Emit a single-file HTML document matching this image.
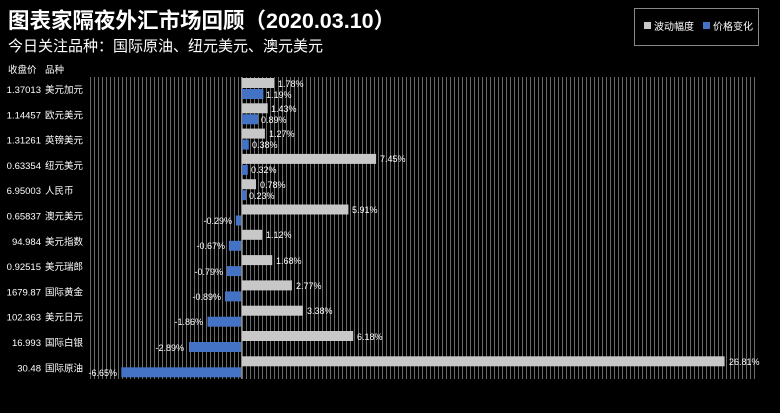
<!DOCTYPE html>
<html><head><meta charset="utf-8"><style>
body{margin:0;background:#000;}
svg{display:block;font-family:"Liberation Sans","Noto Sans CJK SC",sans-serif;}
</style></head><body>
<svg width="780" height="413" viewBox="0 0 780 413" xmlns="http://www.w3.org/2000/svg">
<defs><pattern id="g" x="90" y="0" width="4" height="10" patternUnits="userSpaceOnUse"><rect x="0" y="0" width="1" height="10" fill="#6a6a6a"/></pattern></defs>
<rect width="780" height="413" fill="#000"/>
<text x="8" y="28" fill="#fff" font-size="21.5" font-weight="bold">图表家隔夜外汇市场回顾（2020.03.10）</text>
<text x="8" y="51" fill="#fff" font-size="15">今日关注品种：国际原油、纽元美元、澳元美元</text>
<rect x="634.5" y="8.5" width="124" height="37" fill="none" stroke="#888"/>
<rect x="644" y="22" width="7" height="7" fill="#c8c8c8"/>
<text x="654" y="30" fill="#fff" font-size="10">波动幅度</text>
<rect x="703" y="22" width="7" height="7" fill="#4472c4"/>
<text x="713" y="30" fill="#fff" font-size="10">价格变化</text>
<text x="8" y="73" fill="#fff" font-size="9.5">收盘价</text>
<text x="45" y="73" fill="#fff" font-size="9.5">品种</text>
<rect x="90" y="77" width="668" height="302" fill="url(#g)"/>
<line x1="241.5" y1="77" x2="241.5" y2="379" stroke="#888"/>
<g font-size="9" fill="#fff">
<rect x="242" y="78" width="32" height="10" fill="#c8c8c8"/><text x="278" y="87">1.78%</text>
<rect x="242" y="89" width="21.4" height="10" fill="#4472c4"/><text x="266" y="98">1.19%</text>
<rect x="242" y="103.3" width="25.7" height="10" fill="#c8c8c8"/><text x="271" y="112">1.43%</text>
<rect x="242" y="114.3" width="16" height="10" fill="#4472c4"/><text x="261" y="123">0.89%</text>
<rect x="242" y="128.6" width="22.9" height="10" fill="#c8c8c8"/><text x="269" y="137">1.27%</text>
<rect x="242" y="139.6" width="6.8" height="10" fill="#4472c4"/><text x="252" y="148">0.38%</text>
<rect x="242" y="153.9" width="134.1" height="10" fill="#c8c8c8"/><text x="380" y="162">7.45%</text>
<rect x="242" y="164.9" width="5.8" height="10" fill="#4472c4"/><text x="251" y="173">0.32%</text>
<rect x="242" y="179.2" width="14" height="10" fill="#c8c8c8"/><text x="260" y="188">0.78%</text>
<rect x="242" y="190.2" width="4.1" height="10" fill="#4472c4"/><text x="249" y="199">0.23%</text>
<rect x="242" y="204.5" width="106.4" height="10" fill="#c8c8c8"/><text x="352" y="213">5.91%</text>
<rect x="235.8" y="215.5" width="5.2" height="10" fill="#4472c4"/><text x="232" y="224" text-anchor="end">-0.29%</text>
<rect x="242" y="229.8" width="20.2" height="10" fill="#c8c8c8"/><text x="266" y="238">1.12%</text>
<rect x="228.9" y="240.8" width="12.1" height="10" fill="#4472c4"/><text x="225" y="249" text-anchor="end">-0.67%</text>
<rect x="242" y="255.1" width="30.2" height="10" fill="#c8c8c8"/><text x="276" y="264">1.68%</text>
<rect x="226.8" y="266.1" width="14.2" height="10" fill="#4472c4"/><text x="223" y="275" text-anchor="end">-0.79%</text>
<rect x="242" y="280.4" width="49.9" height="10" fill="#c8c8c8"/><text x="296" y="289">2.77%</text>
<rect x="225" y="291.4" width="16" height="10" fill="#4472c4"/><text x="221" y="300" text-anchor="end">-0.89%</text>
<rect x="242" y="305.7" width="60.8" height="10" fill="#c8c8c8"/><text x="307" y="314">3.38%</text>
<rect x="207.5" y="316.7" width="33.5" height="10" fill="#4472c4"/><text x="203" y="325" text-anchor="end">-1.86%</text>
<rect x="242" y="331" width="111.2" height="10" fill="#c8c8c8"/><text x="357" y="340">6.18%</text>
<rect x="189" y="342" width="52" height="10" fill="#4472c4"/><text x="184" y="351" text-anchor="end">-2.89%</text>
<rect x="242" y="356.3" width="482.6" height="10" fill="#c8c8c8"/><text x="729" y="365">26.81%</text>
<rect x="121.3" y="367.3" width="119.7" height="10" fill="#4472c4"/><text x="117" y="376" text-anchor="end">-6.65%</text>
</g>
<g font-size="9.5" fill="#fff">
<g text-anchor="end">
<text x="41" y="93">1.37013</text><text x="41" y="118.3">1.14457</text><text x="41" y="143.6">1.31261</text><text x="41" y="168.9">0.63354</text><text x="41" y="194.2">6.95003</text><text x="41" y="219.5">0.65837</text><text x="41" y="244.8">94.984</text><text x="41" y="270.1">0.92515</text><text x="41" y="295.4">1679.87</text><text x="41" y="320.7">102.363</text><text x="41" y="346">16.993</text><text x="41" y="371.3">30.48</text>
</g>
<text x="45" y="93">美元加元</text><text x="45" y="118.3">欧元美元</text><text x="45" y="143.6">英镑美元</text><text x="45" y="168.9">纽元美元</text><text x="45" y="194.2">人民币</text><text x="45" y="219.5">澳元美元</text><text x="45" y="244.8">美元指数</text><text x="45" y="270.1">美元瑞郎</text><text x="45" y="295.4">国际黄金</text><text x="45" y="320.7">美元日元</text><text x="45" y="346">国际白银</text><text x="45" y="371.3">国际原油</text>
</g>
</svg>
</body></html>
